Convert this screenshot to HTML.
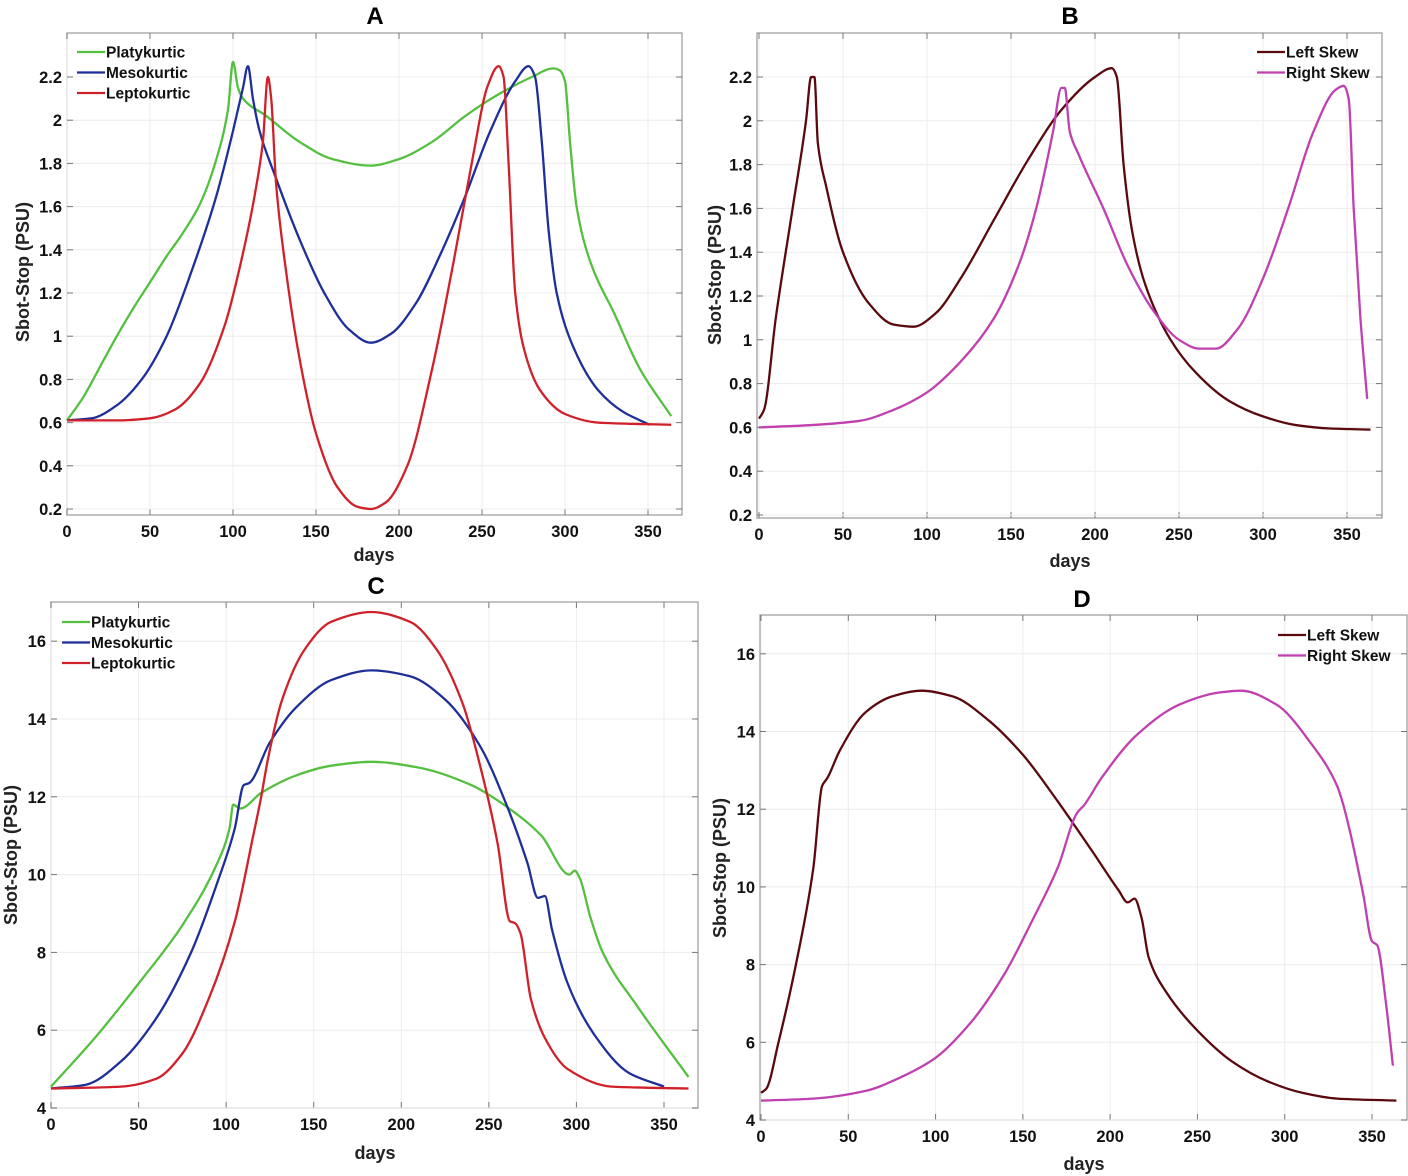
<!DOCTYPE html>
<html><head><meta charset="utf-8"><style>
body{margin:0;background:#fff;}
svg{display:block;font-family:"Liberation Sans",Arial,sans-serif;font-weight:bold;}
</style></head><body>
<svg id="fig" width="1408" height="1176" viewBox="0 0 1408 1176"></svg>
<script>
const NS="http://www.w3.org/2000/svg";
const svg=document.getElementById('fig');
// ---- data ----
const xTicks=[0,50,100,150,200,250,300,350];
const yTicksAB=[0.2,0.4,0.6,0.8,1,1.2,1.4,1.6,1.8,2,2.2];
const yTicksCD=[4,6,8,10,12,14,16];
const A_platy_x=[0,10,20,30,40,50,60,70,80,90,97,100,103,106,120,140,160,183,200,220,240,260,280,293,297,300,303,307,315,330,345,364];
const A_platy_y=[0.61,0.72,0.86,1.0,1.13,1.25,1.37,1.48,1.61,1.82,2.05,2.27,2.15,2.1,2.02,1.9,1.82,1.79,1.82,1.9,2.02,2.12,2.2,2.24,2.23,2.18,1.9,1.6,1.35,1.1,0.85,0.63];
const A_meso_x=[0,15,30,45,60,75,90,100,106,109,112,116,125,140,155,170,183,195,210,225,240,255,270,278,282,286,290,295,305,320,335,351];
const A_meso_y=[0.61,0.62,0.68,0.8,1.0,1.3,1.65,1.95,2.15,2.25,2.1,1.95,1.75,1.45,1.2,1.03,0.97,1.01,1.15,1.38,1.65,1.95,2.18,2.25,2.2,1.9,1.5,1.2,0.95,0.75,0.65,0.59];
const A_lepto_x=[0,30,50,65,80,95,105,113,118,121,123,126,132,140,150,163,175,183,192,205,220,233,245,253,260,263,266,270,275,285,300,320,364];
const A_lepto_y=[0.61,0.61,0.62,0.66,0.78,1.05,1.35,1.65,1.9,2.2,2.1,1.7,1.3,0.9,0.55,0.3,0.21,0.2,0.23,0.4,0.85,1.35,1.85,2.15,2.25,2.2,1.8,1.2,0.95,0.75,0.64,0.6,0.59];
const B_left_x=[0,3,10,20,28,31,33,35,40,50,65,80,92,105,120,140,160,180,200,210,213,217,222,230,245,260,280,300,320,340,364];
const B_left_y=[0.64,0.68,1.1,1.6,2.0,2.2,2.2,1.9,1.7,1.4,1.17,1.07,1.06,1.12,1.28,1.55,1.82,2.05,2.2,2.24,2.2,1.8,1.5,1.25,1.0,0.85,0.72,0.65,0.61,0.595,0.59];
const B_right_x=[0,30,60,80,100,120,140,155,165,175,180,182,185,190,205,220,235,250,262,272,285,300,315,330,343,348,351,354,358,362];
const B_right_y=[0.6,0.61,0.63,0.68,0.76,0.9,1.1,1.35,1.6,1.95,2.15,2.15,1.95,1.85,1.6,1.33,1.13,1.0,0.96,0.96,1.05,1.28,1.6,1.95,2.14,2.16,2.1,1.6,1.1,0.73];
const C_platy_x=[0,25,50,75,95,102,104,108,120,140,160,183,210,240,260,280,296,299,302,308,315,335,364];
const C_platy_y=[4.55,5.8,7.2,8.7,10.3,11.2,11.8,11.7,12.1,12.55,12.8,12.9,12.75,12.3,11.75,11.0,10.0,10.1,9.9,8.9,8.0,6.6,4.8];
const C_meso_x=[0,20,40,60,80,95,105,110,113,125,140,160,183,205,225,245,260,272,278,282,286,295,310,330,350];
const C_meso_y=[4.5,4.6,5.2,6.3,8.0,9.8,11.2,12.3,12.35,13.4,14.3,15.0,15.25,15.1,14.5,13.3,11.8,10.3,9.4,9.45,8.6,7.2,5.9,4.9,4.55];
const C_lepto_x=[0,40,60,75,90,105,115,120,124,132,145,160,183,205,220,235,245,255,262,265,268,274,282,295,320,364];
const C_lepto_y=[4.5,4.55,4.75,5.4,6.8,8.8,10.9,12.0,13.0,14.5,15.8,16.5,16.75,16.5,15.8,14.4,12.8,10.8,8.8,8.75,8.5,6.8,5.8,5.0,4.55,4.5];
const D_left_x=[0,3,10,20,30,35,38,45,60,75,92,110,130,150,170,190,205,210,214,218,222,232,250,270,290,310,330,364];
const D_left_y=[4.7,4.8,6.0,8.0,10.5,12.6,12.8,13.5,14.5,14.9,15.05,14.9,14.3,13.4,12.2,10.9,9.9,9.6,9.7,9.2,8.2,7.3,6.3,5.5,5.0,4.7,4.55,4.5];
const D_right_x=[0,30,60,80,100,120,140,155,170,181,185,195,215,240,262,275,295,315,330,333,337,345,350,353,358,362];
const D_right_y=[4.5,4.55,4.75,5.1,5.6,6.5,7.8,9.1,10.5,11.9,12.1,12.8,13.9,14.7,15.0,15.05,14.7,13.7,12.6,12.2,11.5,9.8,8.6,8.5,7.0,5.4];

function el(tag,attrs,parent){const e=document.createElementNS(NS,tag);for(const k in attrs)e.setAttribute(k,attrs[k]);(parent||svg).appendChild(e);return e;}
// monotone cubic (Fritsch-Carlson) in pixel space
function smoothPath(pts){const n=pts.length;const dx=[],dy=[],m=[];
 for(let i=0;i<n-1;i++){dx.push(pts[i+1][0]-pts[i][0]);dy.push(pts[i+1][1]-pts[i][1]);m.push(dy[i]/dx[i]);}
 const t=[m[0]];for(let i=1;i<n-1;i++){if(m[i-1]*m[i]<=0)t.push(0);else{const w1=2*dx[i]+dx[i-1],w2=dx[i]+2*dx[i-1];t.push((w1+w2)/(w1/m[i-1]+w2/m[i]));}}t.push(m[n-2]);
 let d=`M${pts[0][0].toFixed(1)},${pts[0][1].toFixed(1)}`;
 for(let i=0;i<n-1;i++){const h=dx[i]/3;
  d+=`C${(pts[i][0]+h).toFixed(1)},${(pts[i][1]+h*t[i]).toFixed(1)} ${(pts[i+1][0]-h).toFixed(1)},${(pts[i+1][1]-h*t[i+1]).toFixed(1)} ${pts[i+1][0].toFixed(1)},${pts[i+1][1].toFixed(1)}`;}
 return d;}

function panel(cfg){
 const g=el('g',{});
 
 
 const X=v=>cfg.x0+(v-0)*cfg.xs, Y=v=>cfg.yv0px+(v-cfg.yv0)*cfg.ys;
 const fr=el('rect',{x:cfg.L,y:cfg.T,width:cfg.R-cfg.L,height:cfg.B-cfg.T,fill:'#fff',stroke:'#9a9a9a','stroke-width':1.2},g);
 
 xTicks.forEach(t=>{const x=X(t);
  el('line',{x1:x,x2:x,y1:cfg.T,y2:cfg.B,stroke:'#ececec','stroke-width':1},g);
  el('line',{x1:x,x2:x,y1:cfg.B,y2:cfg.B-6,stroke:'#777'},g);el('line',{x1:x,x2:x,y1:cfg.T,y2:cfg.T+6,stroke:'#777'},g);
  const tx=el('text',{x:x,y:cfg.B+22,'text-anchor':'middle','font-size':16.5,fill:'#111'},g);tx.textContent=t;
  });
 cfg.yt.forEach(t=>{const y=Y(t);
  el('line',{x1:cfg.L,x2:cfg.R,y1:y,y2:y,stroke:'#ececec','stroke-width':1},g);
  el('line',{x1:cfg.L,x2:cfg.L+6,y1:y,y2:y,stroke:'#777'},g);el('line',{x1:cfg.R,x2:cfg.R-6,y1:y,y2:y,stroke:'#777'},g);
  const tx=el('text',{x:cfg.L-5,y:y+6,'text-anchor':'end','font-size':16.5,fill:'#111'},g);tx.textContent=t;
  });
 cfg.series.forEach(s=>{const pts=s.x.map((v,i)=>[X(v),Y(s.y[i])]);
  const p=el('path',{d:smoothPath(pts),fill:'none',stroke:s.c,'stroke-width':2.3,'stroke-linejoin':'round'},g);
  });
 cfg.series.forEach((s,i)=>{const lx=cfg.lx,ly=cfg.ly+i*20.5;
  const le=el('g',{},g);
  el('line',{x1:lx,x2:lx+28,y1:ly,y2:ly,stroke:s.c,'stroke-width':2.2},le);
  const t=el('text',{x:lx+29,y:ly+5.5,'font-size':15.5,fill:'#111'},le);t.textContent=s.n;});
 const ti=el('text',{x:cfg.tx,y:cfg.ty,'text-anchor':'middle','font-size':24,fill:'#000'},g);ti.textContent=cfg.id;
 
 const xl=el('text',{x:cfg.xlx,y:cfg.xly,'text-anchor':'middle','font-size':18,fill:'#222'},g);xl.textContent='days';
 
 const yl=el('text',{x:0,y:0,'text-anchor':'middle','font-size':18,fill:'#222',transform:`translate(${cfg.ylx},${cfg.yly}) rotate(-90)`},g);yl.textContent='Sbot-Stop (PSU)';
 
}
const GREEN='#55c040',BLUE='#1f2f9a',RED='#d0202a',DRED='#5a0a0e',MAG='#c040b0';
panel({id:'A',L:67,R:682,T:33,B:515,x0:67,xs:581/350,yv0:0.2,yv0px:509,ys:-216,yt:yTicksAB,lx:77,ly:52,tx:375,ty:24,xlx:374,xly:561,ylx:29,yly:272,
 series:[{n:'Platykurtic',c:GREEN,x:A_platy_x,y:A_platy_y},{n:'Mesokurtic',c:BLUE,x:A_meso_x,y:A_meso_y},{n:'Leptokurtic',c:RED,x:A_lepto_x,y:A_lepto_y}]});
panel({id:'B',L:757,R:1382,T:33,B:518,x0:759,xs:588/350,yv0:0.2,yv0px:515,ys:-219,yt:yTicksAB,lx:1257,ly:52,tx:1070,ty:24,xlx:1070,xly:567,ylx:721,yly:275,
 series:[{n:'Left Skew',c:DRED,x:B_left_x,y:B_left_y},{n:'Right Skew',c:MAG,x:B_right_x,y:B_right_y}]});
panel({id:'C',L:51,R:698,T:602,B:1108,x0:51,xs:613/350,yv0:4,yv0px:1108,ys:-38.9,yt:yTicksCD,lx:62,ly:622,tx:376,ty:594,xlx:375,xly:1159,ylx:17,yly:855,
 series:[{n:'Platykurtic',c:GREEN,x:C_platy_x,y:C_platy_y},{n:'Mesokurtic',c:BLUE,x:C_meso_x,y:C_meso_y},{n:'Leptokurtic',c:RED,x:C_lepto_x,y:C_lepto_y}]});
panel({id:'D',L:760,R:1407,T:615,B:1120,x0:761,xs:611/350,yv0:4,yv0px:1120,ys:-38.85,yt:yTicksCD,lx:1278,ly:635,tx:1082,ty:607,xlx:1084,xly:1170,ylx:726,yly:868,
 series:[{n:'Left Skew',c:DRED,x:D_left_x,y:D_left_y},{n:'Right Skew',c:MAG,x:D_right_x,y:D_right_y}]});
</script>
</body></html>
